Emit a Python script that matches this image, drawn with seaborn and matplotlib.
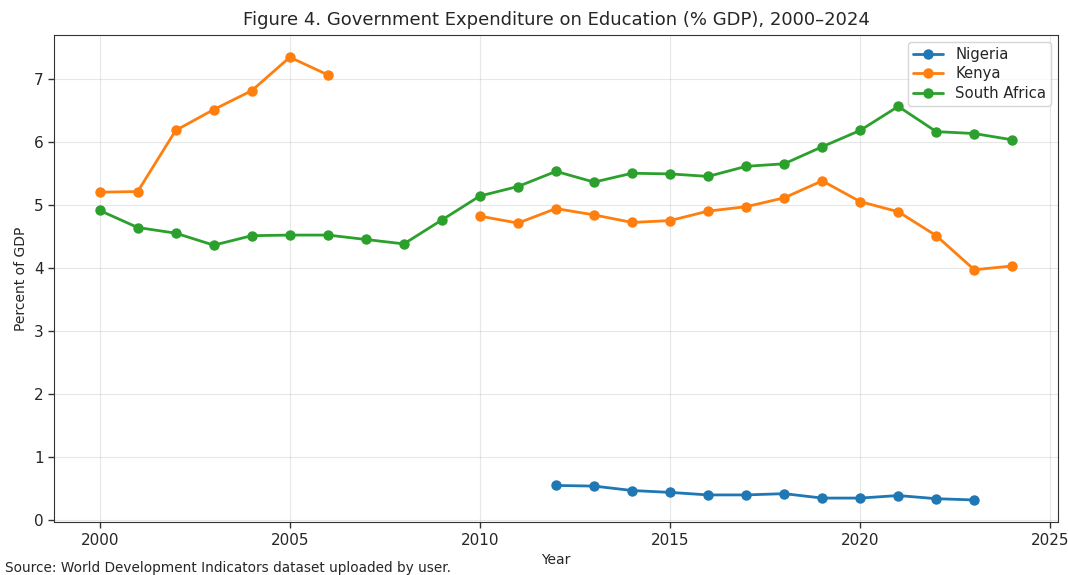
import numpy as np
import pandas as pd
import matplotlib
matplotlib.use("Agg")
import matplotlib.pyplot as plt
import seaborn as sns

# Data (percent of GDP), None = no data
years = list(range(2000, 2025))
nigeria = [None] * 12 + [0.55, 0.54, 0.47, 0.44, 0.40, 0.40, 0.42, 0.35, 0.35, 0.39, 0.34, 0.32, None]
kenya = [5.20, 5.21, 6.18, 6.51, 6.81, 7.34, 7.06, None, None, None,
         4.82, 4.71, 4.94, 4.84, 4.72, 4.75, 4.90, 4.97, 5.11, 5.38,
         5.05, 4.89, 4.51, 3.97, 4.03]
south_africa = [4.91, 4.64, 4.55, 4.36, 4.51, 4.52, 4.52, 4.45, 4.38, 4.76,
                5.14, 5.29, 5.53, 5.36, 5.50, 5.49, 5.45, 5.61, 5.65, 5.92,
                6.18, 6.56, 6.16, 6.13, 6.03]
countries = ["Nigeria", "Kenya", "South Africa"]
colors = ["#1f77b4", "#ff7f0e", "#2ca02c"]

# long format, with a segment id so gaps in the data break the line
rows = []
for name, vals in zip(countries, [nigeria, kenya, south_africa]):
    seg = 0
    for yr, v in zip(years, vals):
        if v is None:
            seg += 1
            continue
        rows.append({"Year": yr, "Value": v, "Country": name, "Segment": f"{name}-{seg}"})
df = pd.DataFrame(rows)

sns.set_style("white", {"xtick.bottom": True, "ytick.left": True})
plt.rcParams['font.family'] = ['DejaVu Sans']

fig, ax = plt.subplots(figsize=(10.68, 5.75), dpi=100)
fig.subplots_adjust(left=0.0506, right=0.9906, top=0.939, bottom=0.092)

sns.lineplot(data=df, x="Year", y="Value", hue="Country", hue_order=countries,
             palette=colors, units="Segment", estimator=None, marker="o",
             markersize=7.5, markeredgewidth=0, linewidth=2, ax=ax)

ax.grid(True, alpha=0.3, color='#b0b0b0')
ax.set_xticks([2000, 2005, 2010, 2015, 2020, 2025])
ax.tick_params(axis='both', labelsize=11, length=4, width=1, color='#333333')
for s in ax.spines.values():
    s.set_color('#333333')
ax.set_xlabel("Year", fontsize=10)
ax.set_ylabel("Percent of GDP", fontsize=10)
ax.set_title("Figure 4. Government Expenditure on Education (% GDP), 2000\u20132024", fontsize=13, pad=7)
ax.legend(loc="upper right", fontsize=10.7, frameon=True, borderaxespad=0.45,
          labelspacing=0.3, borderpad=0.35)

fig.text(0.005, 0.005, "Source: World Development Indicators dataset uploaded by user.", fontsize=9.8)

fig.savefig("out.png", dpi=100, facecolor='white')
